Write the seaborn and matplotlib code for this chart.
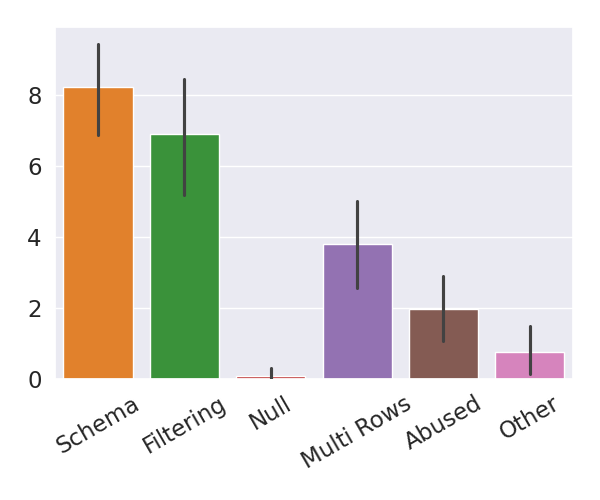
import matplotlib
matplotlib.use("Agg")
import matplotlib.pyplot as plt
import seaborn as sns

categories = ["Schema", "Filtering", "Null", "Multi Rows", "Abused", "Other"]
means = [8.21, 6.88, 0.08, 3.79, 1.97, 0.76]
err_low = [6.86, 5.18, 0.0, 2.55, 1.05, 0.14]
err_high = [9.43, 8.44, 0.29, 4.99, 2.90, 1.49]

sns.set_theme(style="darkgrid", font_scale=1.5)
colors = sns.color_palette("tab10")[1:7]

fig, ax = plt.subplots(figsize=(6, 5), dpi=100)
sns.barplot(x=categories, y=means, hue=categories, palette=colors,
            legend=False, errorbar=None, ax=ax)
# error bars
ax.vlines(range(len(categories)), err_low, err_high, color=".26",
          linewidth=2.25, zorder=3, capstyle="round")
ax.set_xlim(-0.5, len(categories) - 0.5)
plt.xticks(rotation=30)
plt.tight_layout()
plt.savefig("out.png")
